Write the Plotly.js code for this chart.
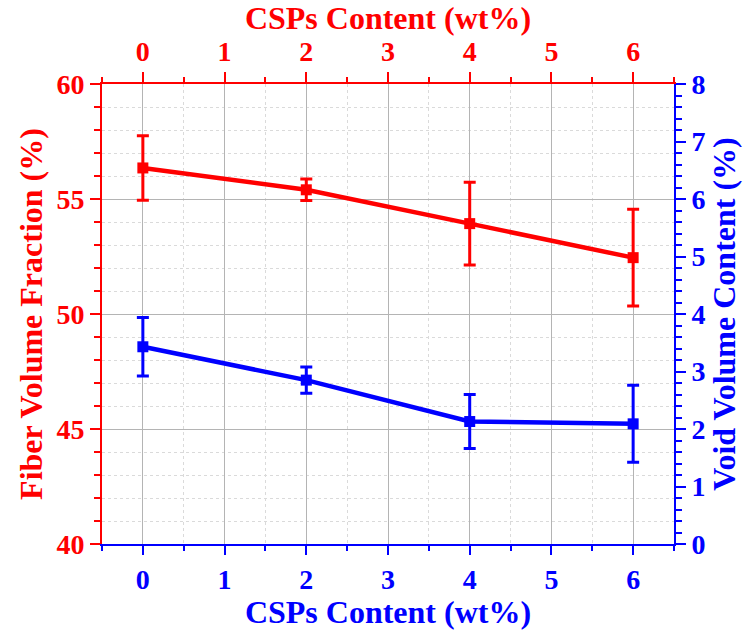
<!DOCTYPE html>
<html>
<head>
<meta charset="utf-8">
<script src="https://cdn.plot.ly/plotly-3.0.1.min.js"></script>
<style>html,body{margin:0;padding:0;background:#fff;}#chart{width:743px;height:630px;}</style>
</head>
<body>
<div id="chart"></div>
<script>
const content = [0, 2, 4, 6];
const fiberFraction = [56.35, 55.4, 53.93, 52.45];
const fiberErr = [1.4, 0.47, 1.8, 2.1];
const voidContent = [3.43, 2.85, 2.13, 2.09];
const voidErr = [0.51, 0.23, 0.47, 0.67];
const xTicks = [0, 1, 2, 3, 4, 5, 6];

const RED = '#ff0000', BLUE = '#0000ff';
const FONT = 'Liberation Serif, Times New Roman, serif';

const traces = [
  {
    x: content, y: fiberFraction, xaxis: 'x', yaxis: 'y',
    type: 'scatter', mode: 'lines+markers',
    line: {color: RED, width: 4.5},
    marker: {symbol: 'square', size: 11, color: RED},
    error_y: {type: 'data', array: fiberErr, visible: true, color: RED, thickness: 3, width: 6},
    showlegend: false, cliponaxis: false
  },
  {
    x: content, y: voidContent, xaxis: 'x', yaxis: 'y2',
    type: 'scatter', mode: 'lines+markers',
    line: {color: BLUE, width: 4.5},
    marker: {symbol: 'square', size: 11, color: BLUE},
    error_y: {type: 'data', array: voidErr, visible: true, color: BLUE, thickness: 3, width: 6},
    showlegend: false, cliponaxis: false
  },
  {
    x: content, y: fiberFraction, xaxis: 'x2', yaxis: 'y',
    type: 'scatter', mode: 'markers', marker: {opacity: 0, size: 1},
    hoverinfo: 'skip', showlegend: false
  }
];

const tickFont = (c) => ({family: FONT, size: 28, color: c, weight: 'bold'});
const titleFont = (c) => ({family: FONT, size: 32, color: c, weight: 'bold'});
const MINORDASH = '3px,3px';

const layout = {
  width: 743, height: 630,
  margin: {l: 102, r: 69, t: 84, b: 86},
  paper_bgcolor: '#ffffff', plot_bgcolor: '#ffffff',
  showlegend: false,
  xaxis: {
    range: [-0.5, 6.5], tickvals: xTicks, ticktext: xTicks.map(String),
    showline: true, linecolor: BLUE, linewidth: 2, mirror: false,
    ticks: 'outside', ticklen: 9, tickwidth: 2, tickcolor: BLUE,
    tickfont: tickFont(BLUE),
    showgrid: true, gridcolor: '#b4b4b4', gridwidth: 1,
    minor: {dtick: 0.5, tick0: 0, ticks: 'outside', ticklen: 5, tickwidth: 2, tickcolor: BLUE,
            showgrid: true, gridcolor: '#dadada', griddash: MINORDASH, gridwidth: 1},
    zeroline: false,
    title: {text: 'CSPs Content (wt%)', font: titleFont(BLUE), standoff: 4}
  },
  xaxis2: {
    range: [-0.5, 6.5], tickvals: xTicks, ticktext: xTicks.map(String),
    overlaying: 'x', side: 'top', anchor: 'y',
    showline: true, linecolor: RED, linewidth: 2,
    ticks: 'outside', ticklen: 10, tickwidth: 2, tickcolor: RED,
    tickfont: tickFont(RED),
    showgrid: false, zeroline: false,
    minor: {dtick: 0.5, tick0: 0, ticks: 'outside', ticklen: 5, tickwidth: 2, tickcolor: RED, showgrid: false},
    title: {text: 'CSPs Content (wt%)', font: titleFont(RED), standoff: 2}
  },
  yaxis: {
    range: [40, 60], dtick: 5, tick0: 40,
    showline: true, linecolor: RED, linewidth: 2,
    ticks: 'outside', ticklen: 10, tickwidth: 2, tickcolor: RED,
    tickfont: tickFont(RED),
    showgrid: true, gridcolor: '#b4b4b4', gridwidth: 1,
    minor: {dtick: 1, tick0: 40, ticks: 'outside', ticklen: 6, tickwidth: 2, tickcolor: RED,
            showgrid: true, gridcolor: '#dadada', griddash: MINORDASH, gridwidth: 1},
    zeroline: false,
    title: {text: 'Fiber Volume Fraction (%)', font: titleFont(RED), standoff: 4}
  },
  yaxis2: {
    range: [0, 8], dtick: 1, tick0: 0,
    overlaying: 'y', side: 'right', anchor: 'x',
    showline: true, linecolor: BLUE, linewidth: 2,
    ticks: 'outside', ticklen: 10, tickwidth: 2, tickcolor: BLUE,
    tickfont: tickFont(BLUE),
    showgrid: false, zeroline: false,
    minor: {dtick: 0.2, tick0: 0, ticks: 'outside', ticklen: 6, tickwidth: 2, tickcolor: BLUE, showgrid: false},
    title: {text: 'Void Volume Content (%)', font: titleFont(BLUE), standoff: 4}
  }
};

Plotly.newPlot('chart', traces, layout, {displayModeBar: false, staticPlot: true});
</script>
</body>
</html>
